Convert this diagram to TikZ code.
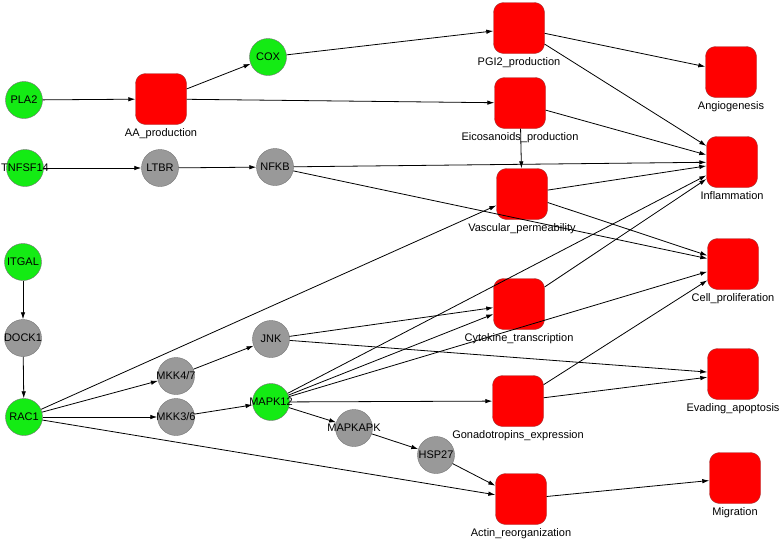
\documentclass[tikz,border=0pt]{standalone}
\usepackage{fontspec}
\setmainfont{Liberation Sans}
\usetikzlibrary{arrows.meta}
\definecolor{genegreen}{RGB}{20,235,20}
\definecolor{genegray}{RGB}{153,153,153}
\definecolor{procred}{RGB}{255,0,0}
\definecolor{procline}{RGB}{160,60,60}
\tikzset{
  gene/.style={circle,draw=black!55,fill=genegreen,minimum size=37pt,inner sep=0pt},
  relay/.style={gene,fill=genegray},
  proc/.style={rectangle,rounded corners=10pt,draw=procline,fill=procred,minimum size=51pt,inner sep=0pt,label distance=-0.5pt},
  edge/.style={-{Latex[length=7pt,width=4.5pt]},line width=0.8pt}
}
\newcommand{\gname}[1]{\makebox[0pt]{#1}}
\begin{document}
\begin{tikzpicture}[x=1pt,y=-1pt,font=\fontsize{11}{13}\selectfont]
        \useasboundingbox (0,0) rectangle (780,544);
        % genes
        \node (pla2) at (24,100) [gene] {\gname{PLA2}};
        \node (cox) at (268,57) [gene] {\gname{COX}};
        \node (tnfsf14) at (25,168) [gene] {\gname{TNFSF14}};
        \node (ltbr) at (160,168) [relay] {\gname{LTBR}};
        \node (nfkb) at (275,167) [relay] {\gname{NFKB}};
        \node (itgal) at (23,262) [gene] {\gname{ITGAL}};
        \node (dock1) at (23,338) [relay] {\gname{DOCK1}};
        \node (rac1) at (24,417) [gene] {\gname{RAC1}};
        \node (mkk47) at (176,376) [relay] {\gname{MKK4/7}};
        \node (mkk36) at (176,417) [relay] {\gname{MKK3/6}};
        \node (jnk) at (271,339) [relay] {\gname{JNK}};
        \node (mapk12) at (271,402) [gene] {\gname{MAPK12}};
        \node (mapkapk) at (354,428) [relay] {\gname{MAPKAPK}};
        \node (hsp27) at (436,455) [relay] {\gname{HSP27}};
        % processes
        \node (aa) at (161,99) [proc, label=below:AA\_production] {};
        \node (pgi2) at (519,28) [proc, label=below:PGI2\_production] {};
        \node (eico) at (520,103) [proc, label=below:Eicosanoids\_production] {};
        \node (vasc) at (522,194) [proc, label=below:Vascular\_permeability] {};
        \node (cyto) at (519,304) [proc, label=below:Cytokine\_transcription] {};
        \node (gona) at (518,401) [proc, label=below:Gonadotropins\_expression] {};
        \node (actin) at (521,499) [proc, label=below:Actin\_reorganization] {};
        \node (angio) at (731,72) [proc, label=below:Angiogenesis] {};
        \node (infl) at (732,162) [proc, label=below:Inflammation] {};
        \node (cell) at (733,264) [proc, label=below:Cell\_proliferation] {};
        \node (evad) at (733,374) [proc, label=below:Evading\_apoptosis] {};
        \node (migr) at (735,478) [proc, label=below:Migration] {};
        % edges
        \foreach \a/\b in {pla2/aa, aa/cox, aa/eico, cox/pgi2, pgi2/angio, pgi2/infl,
            eico/infl, eico/vasc, tnfsf14/ltbr, ltbr/nfkb, nfkb/infl, nfkb/cell,
            vasc/infl, vasc/cell, itgal/dock1, dock1/rac1, rac1/vasc, rac1/mkk47,
            rac1/mkk36, rac1/actin, mkk47/jnk, mkk36/mapk12, jnk/cyto, jnk/evad,
            mapk12/infl, mapk12/cyto, mapk12/cell, mapk12/gona, mapk12/mapkapk,
            mapkapk/hsp27, hsp27/actin, cyto/infl, gona/cell, gona/evad, actin/migr}
        \draw[edge] (\a) -- (\b);
    \end{tikzpicture}
\end{document}
